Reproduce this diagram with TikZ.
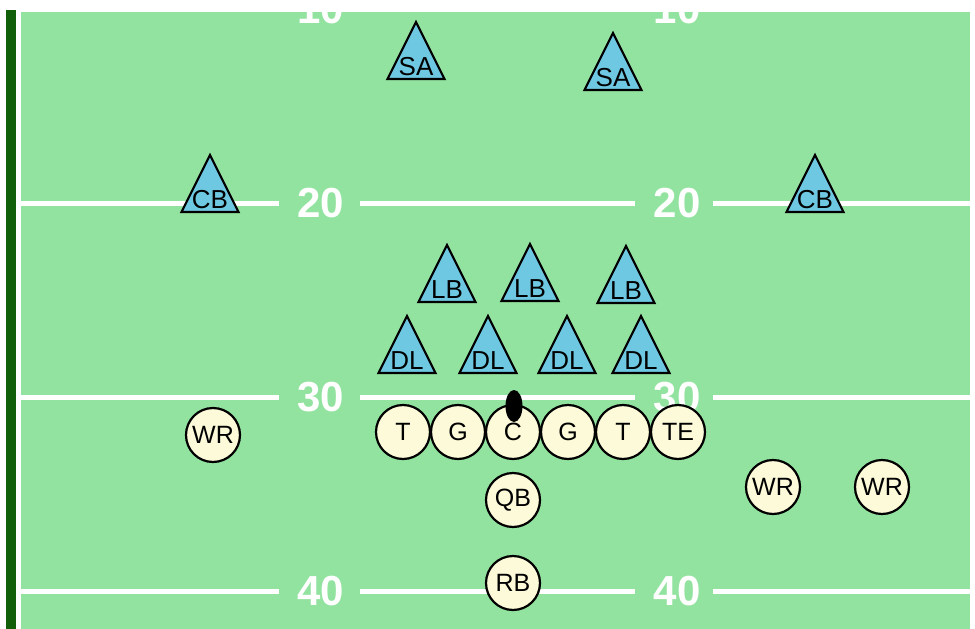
\documentclass[tikz,border=0pt]{standalone}
\usepackage{fontspec}
\setmainfont{Liberation Sans}
\usepackage{xcolor}
\usepackage{tikz}
\usetikzlibrary{positioning}
\definecolor{turf}{RGB}{147,227,160}
\definecolor{sideline}{RGB}{18,95,10}
\definecolor{defblue}{RGB}{110,200,225}
\definecolor{offcream}{RGB}{252,250,216}
\tikzset{
  yardline/.style={white, line width=5pt},
  yardnum/.style={text=white, font=\fontsize{42}{42}\selectfont\bfseries, inner sep=0pt},
  offense/.style={draw, line width=2.2pt, circle, fill=offcream, minimum size=54pt,
                  inner sep=0pt, font=\fontsize{25}{25}\selectfont},
  deftri/.style={draw, line width=2.2pt, fill=defblue, line join=miter},
  deflabel/.style={inner sep=0pt, font=\fontsize{26}{26}\selectfont},
  ballshape/.style={fill=black},
}

\begin{document}
\begin{tikzpicture}[x=1pt, y=-1pt]
    \useasboundingbox (0,0) rectangle (975,629);
    \fill[white] (0,0) rectangle (975,629);
    \fill[turf] (21,12) rectangle (970,629);
    \fill[sideline] (6,10) rectangle (16,629);
    % yard lines and numbers
    \begin{scope}
      \clip (21,12) rectangle (970,629);
      \foreach \y/\yd in {9/10,203/20,397/30,591/40} {
        \draw[yardline] (21,\y) -- (279,\y);
        \draw[yardline] (360,\y) -- (635,\y);
        \draw[yardline] (713,\y) -- (970,\y);
        \node[yardnum] (numL\yd) at (321,\y) {\yd};
        \node[yardnum] (numR\yd) at (677,\y) {\yd};
      }
    \end{scope}
    % defense
    \foreach \nm/\x/\y/\t in {sa1/416/79/SA, sa2/613/90/SA, cb1/210/212/CB, cb2/815/212/CB,
        lb1/447/302/LB, lb2/530/301/LB, lb3/626/303/LB,
        dl1/407/373/DL, dl2/488/373/DL, dl3/567/373/DL, dl4/641/373/DL} {
      \filldraw[deftri] (\x-28.5,\y) -- (\x,\y-57) -- (\x+28.5,\y) -- cycle;
      \node[deflabel] (\nm) at (\x,\y-12) {\t};
    }
    % offense
    \node[offense] (c)   at (513,432) {C};
    \node[offense] (lg)  at (458,432) {G};
    \node[offense] (lt)  at (403,432) {T};
    \node[offense] (rg)  at (568,432) {G};
    \node[offense] (rt)  at (623,432) {T};
    \node[offense] (te)  at (678,432) {TE};
    \node[offense] (qb)  at (513,500) {QB};
    \node[offense] (rb)  at (513,583) {RB};
    \node[offense] (wr1) at (213,435) {WR};
    \node[offense] (wr2) at (773,487) {WR};
    \node[offense] (wr3) at (882,487) {WR};
    \fill[ballshape] (514,406) ellipse [x radius=8.5, y radius=16];
  \end{tikzpicture}
\end{document}
